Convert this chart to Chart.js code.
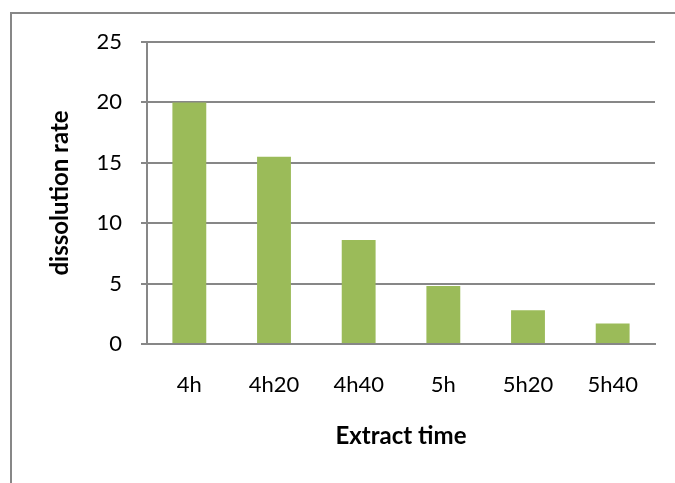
<!DOCTYPE html>
<html>
<head>
<meta charset="utf-8">
<script src="https://cdn.jsdelivr.net/npm/chart.js@4/dist/chart.umd.min.js"></script>
<style>
  html, body { margin: 0; padding: 0; background: #ffffff; }
  #wrap { position: relative; width: 675px; height: 483px; }
</style>
</head>
<body>
<div id="wrap"><canvas id="chart" width="675" height="483"></canvas></div>
<script>
// Extraction time steps and the measured dissolution rate at each one
const categories = ['4h', '4h20', '4h40', '5h', '5h20', '5h40'];
const dissolutionRate = [20, 15.5, 8.6, 4.8, 2.8, 1.7];
const yTicks = [0, 5, 10, 15, 20, 25];

const GREY = '#878787';
const BAR = '#9BBB59';

// Outer frame: only the top and left edges fall inside the canvas
const framePlugin = {
  id: 'frame',
  beforeDraw(chart) {
    const ctx = chart.ctx;
    ctx.save();
    ctx.strokeStyle = GREY;
    ctx.lineWidth = 2;
    ctx.beginPath();
    ctx.moveTo(11, 483);
    ctx.lineTo(11, 13);
    ctx.lineTo(675, 13);
    ctx.stroke();
    ctx.restore();
  }
};

new Chart(document.getElementById('chart'), {
  type: 'bar',
  data: {
    labels: categories,
    datasets: [{
      data: dissolutionRate,
      backgroundColor: BAR,
      borderWidth: 0,
      categoryPercentage: 1,
      barPercentage: 0.4
    }]
  },
  options: {
    responsive: false,
    animation: false,
    devicePixelRatio: 1,
    layout: { padding: { left: 0, right: 20, top: 42, bottom: 0 } },
    plugins: { legend: { display: false }, tooltip: { enabled: false } },
    scales: {
      x: {
        grid: { display: false, drawTicks: false },
        border: { display: true, color: GREY, width: 2 },
        ticks: {
          color: '#000000',
          padding: 28,
          font: { family: 'Lato', size: 22 }
        },
        title: {
          display: true,
          text: 'Extract time',
          color: '#000000',
          font: { family: 'Lato', size: 24, weight: 'bold' },
          padding: { top: 0, bottom: 32 }
        },
        afterFit(scale) { scale.height = 139; }
      },
      y: {
        min: 0,
        max: 25,
        afterBuildTicks(scale) { scale.ticks = yTicks.map(v => ({ value: v })); },
        grid: { color: GREY, lineWidth: 2, drawTicks: true, tickLength: 6 },
        border: { display: true, color: GREY, width: 2 },
        ticks: {
          color: '#000000',
          padding: 19,
          font: { family: 'Lato', size: 22 }
        },
        title: {
          display: true,
          text: 'dissolution rate',
          color: '#000000',
          font: { family: 'Lato', size: 24, weight: 'bold' },
          padding: { top: 46, bottom: 0 }
        },
        afterFit(scale) { scale.width = 147; }
      }
    }
  },
  plugins: [framePlugin]
});
</script>
</body>
</html>
